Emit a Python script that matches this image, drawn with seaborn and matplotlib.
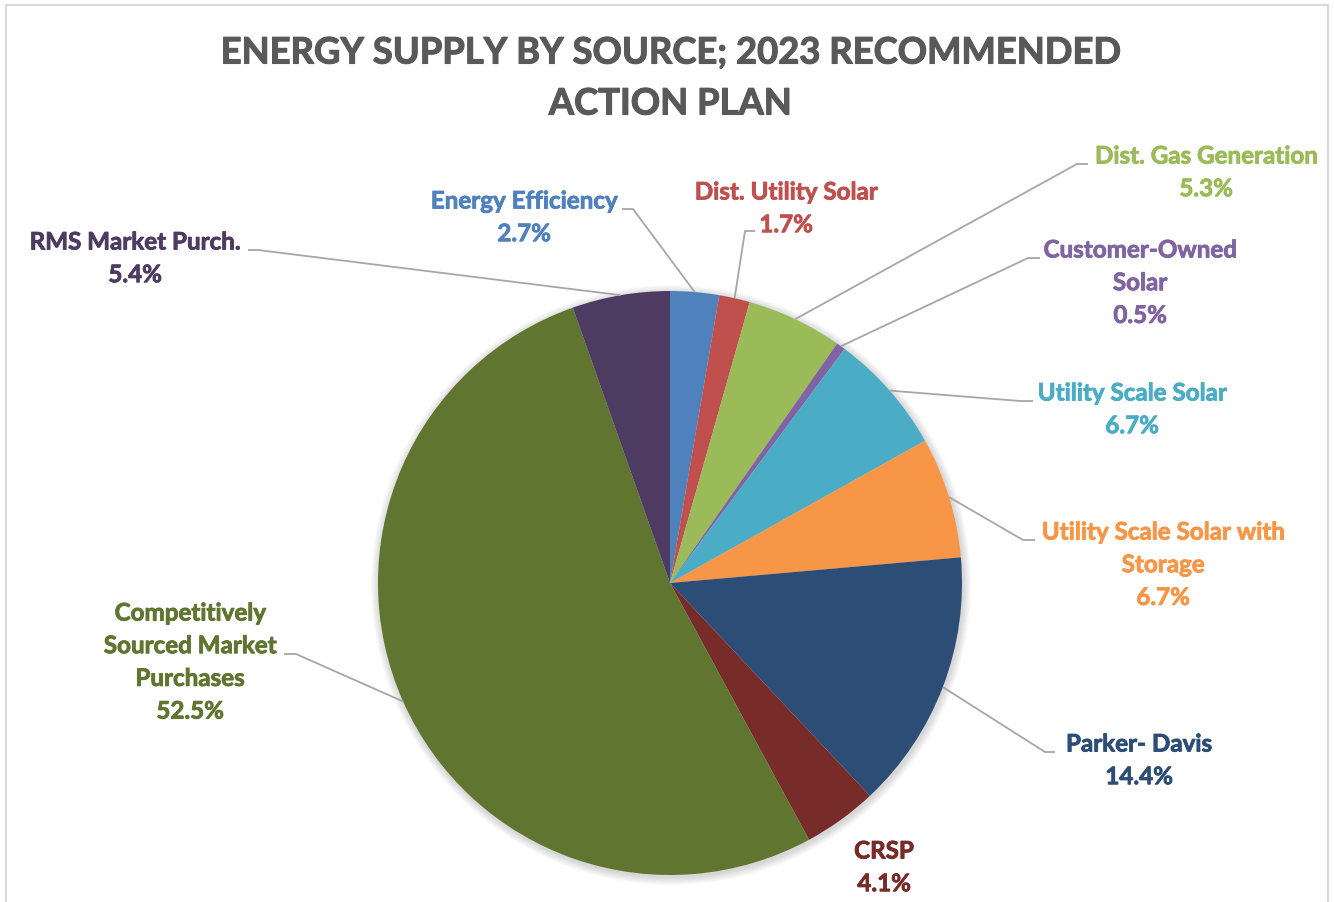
import numpy as np
import matplotlib
matplotlib.use("Agg")
import matplotlib.pyplot as plt
import matplotlib.patheffects as pe
from matplotlib.patches import Circle, Rectangle
import seaborn as sns

# Energy supply shares (percent), clockwise from 12 o'clock
categories = [
    "Energy Efficiency", "Dist. Utility Solar", "Dist. Gas Generation",
    "Customer-Owned Solar", "Utility Scale Solar", "Utility Scale Solar with Storage",
    "Parker- Davis", "CRSP", "Competitively Sourced Market Purchases",
    "RMS Market Purch.",
]
shares = [2.7, 1.7, 5.3, 0.5, 6.7, 6.7, 14.4, 4.1, 52.5, 5.4]
label_lines = [
    ["Energy Efficiency"], ["Dist. Utility Solar"], ["Dist. Gas Generation"],
    ["Customer-Owned", "Solar"], ["Utility Scale Solar"],
    ["Utility Scale Solar with", "Storage"], ["Parker- Davis"], ["CRSP"],
    ["Competitively", "Sourced Market", "Purchases"], ["RMS Market Purch."],
]
colors = ["#4F81BD", "#C0504D", "#9BBB59", "#8064A2", "#4BACC6",
          "#F79646", "#2C4D75", "#772C2A", "#5F7530", "#4D3B62"]

W, H = 1334, 903
sns.set_theme(style="white")
plt.rcParams["font.family"] = ["Lato", "DejaVu Sans"]

fig = plt.figure(figsize=(W / 100, H / 100), dpi=100)
ax = fig.add_axes([0, 0, 1, 1])

def Y(py):
    return H - py

def heavy(color, w=0.6):
    # thicken the glyph strokes slightly
    return [pe.Stroke(linewidth=w, foreground=color), pe.Normal()]

cx, cy, R = 670, Y(584), 292

# soft shadow around the pie
for k in range(8, 0, -1):
    ax.add_patch(Circle((cx + 1, cy - 2), R + k, facecolor="#000000",
                        alpha=0.018, edgecolor="none", zorder=1))

wedges, _ = ax.pie(shares, colors=colors, startangle=90, counterclock=False,
                   center=(cx, cy), radius=R, frame=True,
                   wedgeprops=dict(linewidth=0, zorder=2))
ax.set_xlim(0, W)
ax.set_ylim(0, H)
ax.set_aspect("equal")
ax.axis("off")

# chart frame
ax.add_patch(Rectangle((5.5, Y(905)), 1322.5, 899, fill=False,
                       edgecolor="#d9d9d9", linewidth=1.5))

# title
title_color = "#595959"
for txt, py in [("ENERGY SUPPLY BY SOURCE; 2023 RECOMMENDED", 54), ("ACTION PLAN", 105)]:
    ax.text(670, Y(py), txt, ha="center", va="center", fontsize=26.2,
            fontweight="bold", color=title_color,
            path_effects=heavy(title_color, 0.8))

# label layout: (center x, first line y), elbow (x0, x1, y) of the leader line
layout = [
    ((524, 202), (622, 633, 210)),
    ((786, 193), (755, 745, 232)),
    ((1206, 157), (1088, 1077, 165)),
    ((1140, 251), (1040, 1028, 259)),
    ((1132, 394), (1033, 1020, 402)),
    ((1163, 533), (1035, 1023, 541)),
    ((1139, 745), (1055, 1045, 753)),
    ((884, 852), None),
    ((190, 614), (284, 296, 655)),
    ((135, 243), (248, 258, 251)),
]
line_h = 32.7
lead_color = "#a6a6a6"

cum = 0.0
for val, lines, col, (pos, elbow) in zip(shares, label_lines, colors, layout):
    mid = 90 - (cum + val / 2) / 100 * 360
    cum += val
    tx, ty = pos
    all_lines = lines + [f"{val:.1f}%"]
    for i, s in enumerate(all_lines):
        ax.text(tx, Y(ty + i * line_h), s, ha="center", va="center",
                fontsize=17.4, fontweight="bold", color=col, zorder=5,
                path_effects=heavy(col))
    if elbow is not None:
        x0, x1, ey = elbow
        ex = cx + R * np.cos(np.radians(mid))
        eyy = cy + R * np.sin(np.radians(mid))
        ax.plot([x0, x1, ex], [Y(ey), Y(ey), eyy], color=lead_color,
                linewidth=1.3, zorder=3, solid_capstyle="butt")

fig.savefig("out.png", dpi=100, facecolor="white")
